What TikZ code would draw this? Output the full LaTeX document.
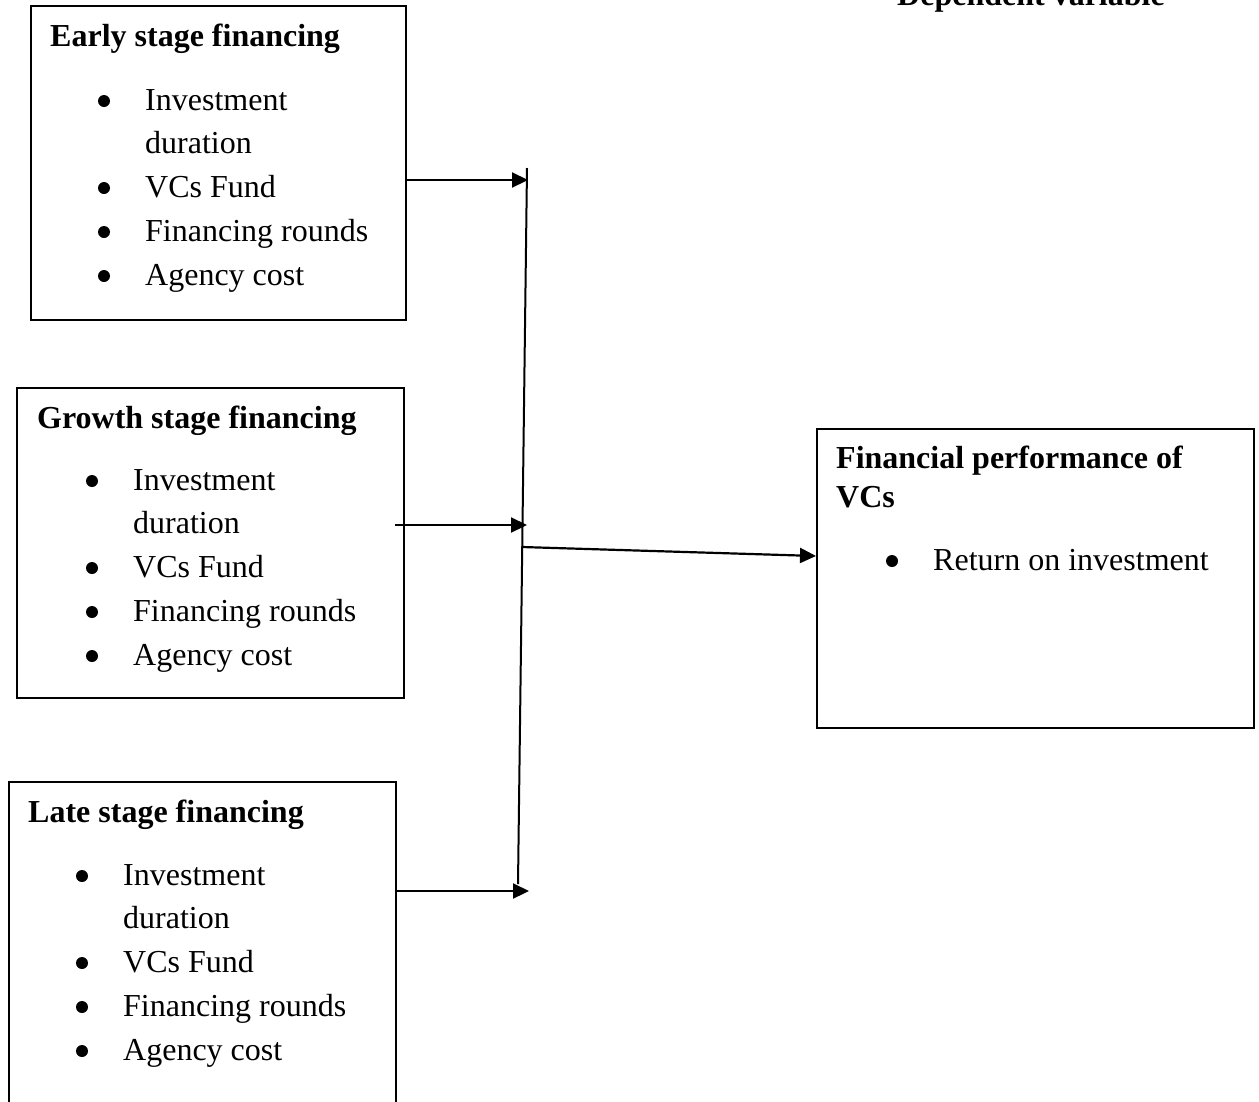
\documentclass[tikz,border=0pt]{standalone}
\usepackage{fontspec}
\setmainfont{Liberation Serif}
\usetikzlibrary{arrows.meta}
\begin{document}
\begin{tikzpicture}[x=1pt,y=-1pt,
  box/.style={draw, line width=2pt, inner sep=0, anchor=north west},
  txt/.style={inner sep=0, anchor=base west, font=\fontsize{32}{44}\selectfont},
  ttl/.style={inner sep=0, anchor=base west, font=\fontsize{32}{44}\selectfont\bfseries},
  bul/.style={circle, fill, inner sep=0, minimum size=12pt},
  arr/.style={line width=2.2pt, -{Triangle[length=16pt,width=15pt]}},
  conn/.style={line width=2pt}]
\useasboundingbox (0,0) rectangle (1259,1101);
\clip (0,0) rectangle (1259,1101);
% boxes
\node[box, minimum width=375pt, minimum height=314pt] (early) at (30,5) {};
\node[box, minimum width=387pt, minimum height=310pt] (growth) at (16,387) {};
\node[box, minimum width=387pt, minimum height=340pt] (late) at (8,781) {};
\node[box, minimum width=437pt, minimum height=299pt] (perf) at (816,428) {};
% header (cut off at the top edge, as in the source)
\node[ttl] (dep) at (897,5) {Dependent variable};
% early box
\node[ttl] (et) at (50,46) {Early stage financing};
\node[txt] (e1) at (145,110) {Investment};
\node[txt] (e2) at (145,153) {duration};
\node[txt] (e3) at (145,197) {VCs Fund};
\node[txt] (e4) at (145,241) {Financing rounds};
\node[txt] (e5) at (145,285) {Agency cost};
\node[bul] (eb1) at (104,101) {};
\node[bul] (eb2) at (104,188) {};
\node[bul] (eb3) at (104,232) {};
\node[bul] (eb4) at (104,276) {};
% growth box
\node[ttl] (gt) at (37,428) {Growth stage financing};
\node[txt] (g1) at (133,490) {Investment};
\node[txt] (g2) at (133,533) {duration};
\node[txt] (g3) at (133,577) {VCs Fund};
\node[txt] (g4) at (133,621) {Financing rounds};
\node[txt] (g5) at (133,665) {Agency cost};
\node[bul] (gb1) at (92,481) {};
\node[bul] (gb2) at (92,568) {};
\node[bul] (gb3) at (92,612) {};
\node[bul] (gb4) at (92,656) {};
% late box
\node[ttl] (lt) at (28,822) {Late stage financing};
\node[txt] (l1) at (123,885) {Investment};
\node[txt] (l2) at (123,928) {duration};
\node[txt] (l3) at (123,972) {VCs Fund};
\node[txt] (l4) at (123,1016) {Financing rounds};
\node[txt] (l5) at (123,1060) {Agency cost};
\node[bul] (lb1) at (82,876) {};
\node[bul] (lb2) at (82,963) {};
\node[bul] (lb3) at (82,1007) {};
\node[bul] (lb4) at (82,1051) {};
% performance box
\node[ttl] (pt1) at (836,468) {Financial performance of};
\node[ttl] (pt2) at (836,507) {VCs};
\node[txt] (p1) at (933,570) {Return on investment};
\node[bul] (pb1) at (892,561) {};
% connector points
\coordinate (vtop) at (527,168);
\coordinate (vbot) at (518,884);
\coordinate (t1) at (528,180);
\coordinate (s2) at (395,525);
\coordinate (t2) at (527,525);
\coordinate (s3) at (395,891);
\coordinate (t3) at (529,891);
\coordinate (s4) at (522,547);
% connectors
\draw[conn] (vtop) -- (vbot);
\draw[arr] (early.east |- t1) -- (t1);
\draw[arr] (s2) -- (t2);
\draw[arr] (s3) -- (t3);
\draw[arr] (s4) -- (perf.west |- 0,556);
\end{tikzpicture}
\end{document}
